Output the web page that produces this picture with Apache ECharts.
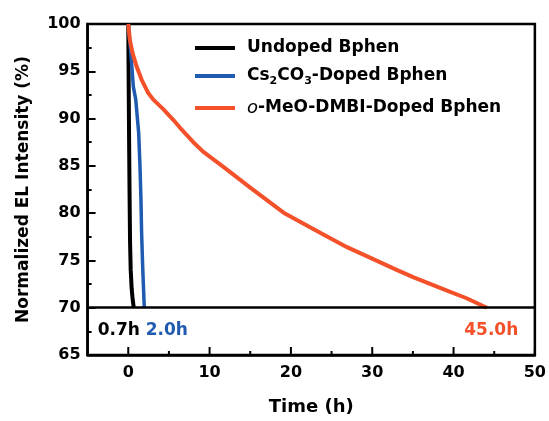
<!DOCTYPE html>
<html>
<head>
<meta charset="utf-8">
<script src="https://cdn.jsdelivr.net/npm/echarts@6/dist/echarts.min.js"></script>
<style>
  html, body { margin: 0; padding: 0; background: #fff; }
  #chart { width: 549px; height: 421px; }
</style>
</head>
<body>
<div id="chart"></div>
<script>
// EL lifetime data (time in h, intensity in %)
const undopedT = [0, 0.04, 0.1, 0.16, 0.22, 0.3, 0.42, 0.55, 0.68]
const undopedY = [100, 95, 88, 82, 77, 74, 72, 70.8, 70]
const csT = [0, 0.32, 0.62, 0.92, 1.28, 1.44, 1.56, 1.64, 1.77, 1.97]
const csY = [100, 96.9, 93.4, 92, 88.5, 85, 81.5, 78, 74.4, 70]
const meoT = [0, 0.2, 0.54, 1.03, 1.65, 2.46, 3.08, 4.3, 5.5, 6.4, 8.0, 9.2, 11.7, 15.0, 19.1, 23.2, 26.9, 31.0, 33.0, 35.1, 39.2, 41.6, 44.1]
const meoY = [100, 98.3, 96.9, 95.5, 94.1, 92.7, 92.0, 91.0, 89.9, 89.0, 87.5, 86.5, 84.9, 82.7, 80.05, 78.1, 76.4, 74.8, 74.0, 73.2, 71.8, 71.0, 70]

const seriesNames = ['Undoped Bphen', 'Cs2CO3-Doped Bphen', 'o-MeO-DMBI-Doped Bphen']
const seriesColors = ['#000000', '#1f5bb0', '#f4502a']

// x axis ticks
const xMajorTicks = [0, 10, 20, 30, 40, 50]
const xMinorTicks = [5, 15, 25, 35, 45]

// lifetime annotations at the bottom of the plot
const annoLabels = ['0.7h', '2.0h', '45.0h']
const annoT = [-1.1, 4.8, 44.7]
const annoY = [67.5, 67.5, 67.5]

const font = 'DejaVu Sans'
const chart = echarts.init(document.getElementById('chart'))

const zip = (t, y) => t.map((v, i) => [v, y[i]])
const richName = {
  'Undoped Bphen': 'Undoped Bphen',
  'Cs2CO3-Doped Bphen': 'Cs{sub|2}CO{sub|3}-Doped Bphen',
  'o-MeO-DMBI-Doped Bphen': '{it|o}-MeO-DMBI-Doped Bphen'
}
const legendTops = [37, 65, 97]
const tickStyle = { color: '#000', width: 2 }
const labelStyle = { fontFamily: font, fontSize: 16, fontWeight: 'bold', color: '#000' }
const yMin = 65

const option = {
  animation: false,
  grid: {
    left: 87.6, right: 14, top: 24, bottom: 65,
    show: true, borderColor: '#000', borderWidth: 2.5
  },
  legend: seriesNames.map((name, i) => ({
    data: [name],
    left: 195,
    top: legendTops[i],
    padding: 0,
    icon: 'rect',
    itemWidth: 40,
    itemHeight: 4,
    selectedMode: false,
    formatter: n => richName[n],
    textStyle: {
      fontFamily: font, fontSize: 17, fontWeight: 'bold', color: '#000',
      lineHeight: 22, padding: [0, 0, 0, 7],
      rich: {
        sub: { fontFamily: font, fontSize: 11, fontWeight: 'bold', lineHeight: 11, verticalAlign: 'bottom', color: '#000' },
        it: { fontFamily: font, fontSize: 18, fontStyle: 'italic', fontWeight: 'normal', color: '#000', lineHeight: 22 }
      }
    }
  })),
  xAxis: {
    type: 'value',
    min: -5,
    max: 50,
    name: 'Time (h)',
    nameLocation: 'middle',
    nameGap: 43,
    nameTextStyle: { fontFamily: font, fontSize: 18, fontWeight: 'bold', color: '#000' },
    axisLine: { onZero: false, lineStyle: { color: '#000', width: 2.5 } },
    axisTick: { show: false },
    splitLine: { show: false },
    axisLabel: Object.assign({ margin: 10, customValues: xMajorTicks }, labelStyle)
  },
  yAxis: {
    type: 'value',
    min: yMin,
    max: 100,
    interval: 5,
    name: 'Normalized EL Intensity (%)',
    nameLocation: 'middle',
    nameGap: 56,
    nameTextStyle: { fontFamily: font, fontSize: 17, fontWeight: 'bold', color: '#000' },
    axisLine: { onZero: false, lineStyle: { color: '#000', width: 2.5 } },
    axisTick: { show: true, inside: true, length: 8, lineStyle: tickStyle },
    minorTick: { show: true, splitNumber: 2, length: 4, lineStyle: tickStyle },
    splitLine: { show: false },
    axisLabel: Object.assign({ margin: 7 }, labelStyle)
  },
  series: [
    {
      name: seriesNames[0],
      type: 'line',
      data: zip(undopedT, undopedY),
      showSymbol: false,
      color: seriesColors[0],
      lineStyle: { width: 4 },
      markLine: {
        silent: true,
        symbol: 'none',
        label: { show: false },
        lineStyle: { color: '#000', width: 2.5, type: 'solid' },
        data: [{ yAxis: 70 }]
      }
    },
    {
      name: seriesNames[1],
      type: 'line',
      data: zip(csT, csY),
      showSymbol: false,
      color: seriesColors[1],
      lineStyle: { width: 3.5 }
    },
    {
      name: seriesNames[2],
      type: 'line',
      data: zip(meoT, meoY),
      showSymbol: false,
      color: seriesColors[2],
      lineStyle: { width: 4, join: 'round' },
      z: 3
    },
    {
      // lifetime labels
      type: 'scatter',
      silent: true,
      symbolSize: 1,
      itemStyle: { opacity: 0 },
      data: annoLabels.map((s, i) => ({
        value: [annoT[i], annoY[i]],
        label: {
          show: true,
          position: [0, 0],
          align: 'center',
          verticalAlign: 'middle',
          formatter: s,
          fontFamily: font, fontSize: 17, fontWeight: 'bold',
          color: seriesColors[i],
          opacity: 1,
          textBorderWidth: 0
        }
      }))
    }
  ]
}

chart.setOption(option)

// inward x ticks, placed through the axis scale
const tick = (x, len) => {
  const p = chart.convertToPixel({ gridIndex: 0 }, [x, yMin])
  return {
    type: 'line',
    z: 100,
    silent: true,
    shape: { x1: p[0], y1: p[1], x2: p[0], y2: p[1] - len },
    style: { stroke: '#000', lineWidth: 2 }
  }
}
chart.setOption({
  graphic: xMajorTicks.map(x => tick(x, 8)).concat(xMinorTicks.map(x => tick(x, 4)))
})
</script>
</body>
</html>
